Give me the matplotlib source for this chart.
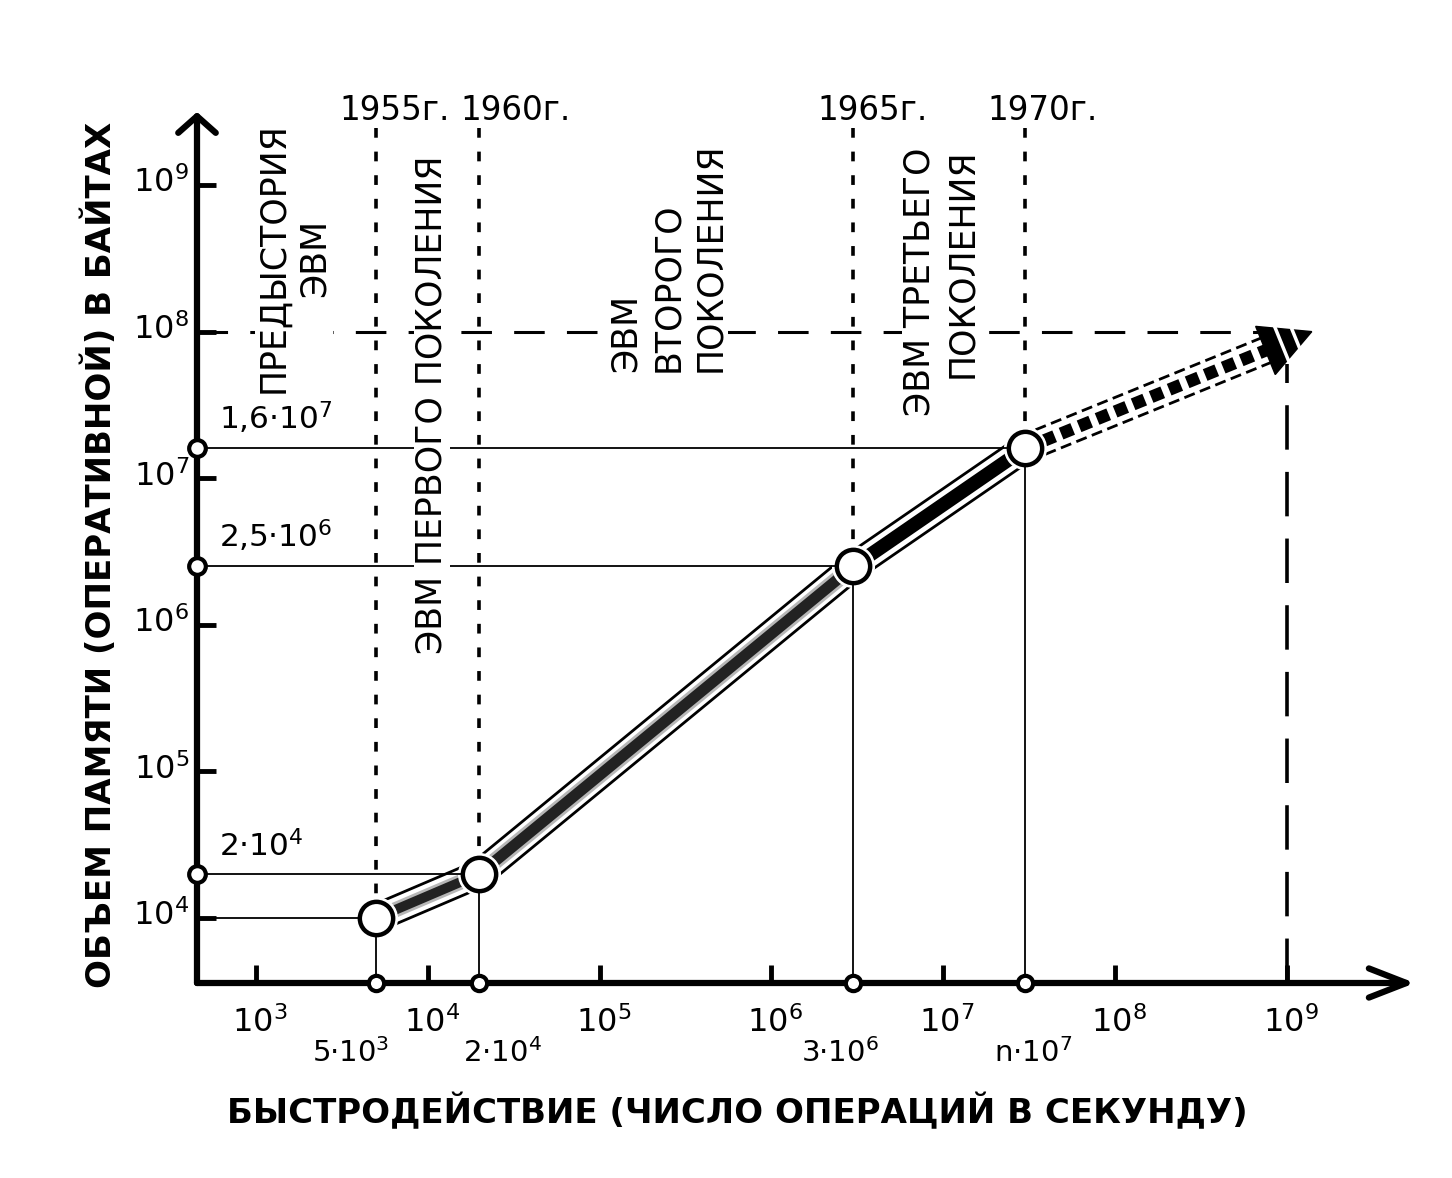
import numpy as np
import matplotlib
matplotlib.use('Agg')
import matplotlib.pyplot as plt
from matplotlib.patches import Polygon
from matplotlib.transforms import IdentityTransform

# ---- values ----
speed = [5e3, 2e4, 3e6, 3e7]            # быстродействие, оп/с
memory = [1e4, 2e4, 2.5e6, 1.6e7]       # объем памяти, байт
years = ['1955г.', '1960г.', '1965г.', '1970г.']
speed_labels = ['$5·10^{3}$', '$2·10^{4}$', '$3·10^{6}$', r'$\mathrm{n}·10^{7}$']
memory_labels = [None, '$2·10^{4}$', '$2{,}5·10^{6}$', '$1{,}6·10^{7}$']
forecast_speed = 1e9
forecast_memory = 1e8
forecast_tip = (1.4e9, 1.0e8)
x_decades = [1e3, 1e4, 1e5, 1e6, 1e7, 1e8, 1e9]
y_decades = [1e4, 1e5, 1e6, 1e7, 1e8, 1e9]
eras = ['ПРЕДЫСТОРИЯ\nЭВМ', 'ЭВМ ПЕРВОГО ПОКОЛЕНИЯ',
        'ЭВМ\nВТОРОГО\nПОКОЛЕНИЯ', 'ЭВМ ТРЕТЬЕГО\nПОКОЛЕНИЯ']
xlabel = 'БЫСТРОДЕЙСТВИЕ (ЧИСЛО ОПЕРАЦИЙ В СЕКУНДУ)'
ylabel = 'ОБЪЕМ ПАМЯТИ (ОПЕРАТИВНОЙ) В БАЙТАХ'

W, H = 1452, 1178

plt.rcParams['font.family'] = ['DejaVu Sans']
plt.rcParams['mathtext.fontset'] = 'dejavusans'
plt.rcParams['lines.scale_dashes'] = False
plt.rcParams['lines.solid_capstyle'] = 'butt'


def px(x, y):
    return x / W, 1 - y / H


fig = plt.figure(figsize=(W / 100, H / 100), dpi=100)
ax = fig.add_axes([197 / W, (H - 983) / H, 1218 / W, 871 / H])
ax.set_xscale('log')
ax.set_yscale('log')
xmin, xmax = 10 ** 2.657, 10 ** 9.747
ymin, ymax = 10 ** 3.557, 10 ** 9.498
ax.set_xlim(xmin, xmax)
ax.set_ylim(ymin, ymax)
for s in ax.spines.values():
    s.set_visible(False)
ax.patch.set_alpha(0)

ax.set_xticks(x_decades)
ax.set_yticks(y_decades)
ax.minorticks_off()
ax.set_xticklabels([])
ax.set_yticklabels([])
ax.tick_params(axis='x', direction='in', length=13, width=3.5, color='k')
ax.tick_params(axis='y', direction='in', length=14, width=3.5, color='k')

# axes with arrows
ax.annotate('', xy=(xmax, ymin), xytext=(xmin, ymin),
            arrowprops=dict(arrowstyle='->,head_length=0.9,head_width=0.35', lw=4.5,
                            color='k', mutation_scale=30, shrinkA=0, shrinkB=0),
            annotation_clip=False, zorder=8)
ax.annotate('', xy=(xmin, ymax), xytext=(xmin, ymin),
            arrowprops=dict(arrowstyle='->,head_length=0.4,head_width=0.45', lw=4.5,
                            color='k', mutation_scale=30, shrinkA=0, shrinkB=0),
            annotation_clip=False, zorder=8)

top_guide = 10 ** 9.39
year_dx = [19, 36, 19, 18]
# year lines (dotted) and guides
for xs, ys, yr, dx in zip(speed, memory, years, year_dx):
    ax.plot([xs, xs], [top_guide, ys], color='k', lw=2.6, ls=(0, (7, 10)), zorder=1)
    ax.plot([xs, xs], [ymin, ys], color='k', lw=1.3, zorder=6.5)
    ax.plot([xmin, xs], [ys, ys], color='k', lw=1.3, zorder=6.5)
    ax.annotate(yr, xy=(xs, ymax), xycoords='data', xytext=(dx, 2),
                textcoords='offset pixels', ha='center', va='center',
                fontsize=23.5, annotation_clip=False)

# forecast guide lines
ax.plot([xmin, forecast_speed], [forecast_memory, forecast_memory], color='k', lw=2.2,
        ls=(0, (22, 16)), zorder=1)
ax.plot([forecast_speed, forecast_speed], [ymin, forecast_memory * 0.6], color='k', lw=2.6,
        ls=(0, (32, 16)), zorder=1)


# trend band
def band(xs, ys, core='k', core_lw=9, glow=None, dashed=False):
    if dashed:
        ax.plot(xs, ys, color='k', lw=21, ls=(0, (8, 4)), zorder=4)
    else:
        ax.plot(xs, ys, color='k', lw=21, zorder=4)
    ax.plot(xs, ys, color='white', lw=17, zorder=4.1)
    if glow:
        ax.plot(xs, ys, color=glow, lw=core_lw + 4, alpha=0.6, zorder=4.2)
    if dashed:
        ax.plot(xs, ys, color=core, lw=core_lw, ls=(0, (9, 5)), zorder=4.3)
    else:
        ax.plot(xs, ys, color=core, lw=core_lw, zorder=4.3)


band(speed[0:2], memory[0:2], core='#222222', core_lw=7, glow='#888888')
band(speed[1:3], memory[1:3], core='#222222', core_lw=8, glow='#888888')
band(speed[2:4], memory[2:4], core='k', core_lw=10)

# forecast arrow head, built from the data points in display space
T = ax.transData
p0 = T.transform((speed[-1], memory[-1]))
tip = T.transform(forecast_tip)
u = (tip - p0) / np.hypot(*(tip - p0))
nv = np.array([-u[1], u[0]])
base = tip - 50 * u
band_end = T.inverted().transform(base + 4 * u)
band([speed[-1], band_end[0]], [memory[-1], band_end[1]], dashed=True)
head = Polygon([tip, base + 26 * nv, base - 26 * nv], closed=True, fc='k', ec='k',
               transform=IdentityTransform(), zorder=5, clip_on=False)
ax.add_patch(head)
for f in (0.35, 0.65):
    c = base + f * 50 * u
    w = 26 * (1 - f) + 2
    ax.plot(*T.inverted().transform([c + w * nv, c - w * nv]).T, color='white', lw=2.5, zorder=5.1)

# circles
ax.plot(speed, memory, 'o', ms=30, mfc='white', mec='white', zorder=6)
ax.plot(speed, memory, 'o', ms=24, mfc='white', mec='k', mew=3.2, zorder=7)
ax.plot(speed, [ymin] * len(speed), 'o', ms=11, mfc='white', mec='k', mew=3, zorder=9,
        clip_on=False)
ax.plot([xmin] * 3, memory[1:], 'o', ms=12, mfc='white', mec='k', mew=3, zorder=9,
        clip_on=False)

# tick labels
for v in x_decades:
    ax.annotate('$10^{%d}$' % round(np.log10(v)), xy=(v, ymin), xytext=(4, -40),
                textcoords='offset pixels', ha='center', va='center', fontsize=23,
                annotation_clip=False)
for v in y_decades:
    ax.annotate('$10^{%d}$' % round(np.log10(v)), xy=(xmin, v), xytext=(-8, 2),
                textcoords='offset pixels', ha='right', va='center', fontsize=23,
                annotation_clip=False)
for v, lab, dx in zip(speed, speed_labels, [-25, 23, -13, 8]):
    ax.annotate(lab, xy=(v, ymin), xytext=(dx, -70), textcoords='offset pixels',
                ha='center', va='center', fontsize=21, annotation_clip=False)
for v, lab in zip(memory, memory_labels):
    if lab:
        ax.annotate(lab, xy=(xmin, v), xytext=(22, 12), textcoords='offset pixels',
                    ha='left', va='bottom', fontsize=22.5, annotation_clip=False)

# era captions
box = dict(fc='white', ec='none', pad=1)
fig.text(*px(294, 258), eras[0], rotation=90, ha='center', va='center', fontsize=25,
         multialignment='center', linespacing=1.25, bbox=box, zorder=5)
fig.text(*px(432, 405), eras[1], rotation=90, ha='center', va='center', fontsize=25,
         bbox=box, zorder=5)
fig.text(*px(668, 372), eras[2], rotation=90, ha='center', va='bottom', fontsize=25,
         multialignment='left', linespacing=1.3, bbox=box, zorder=5)
fig.text(*px(941, 148), eras[3], rotation=90, ha='center', va='top', fontsize=25,
         multialignment='right', linespacing=1.3, bbox=box, zorder=5)

fig.text(*px(737, 1112), xlabel, ha='center', va='center', fontsize=24.5, weight='bold')
fig.text(*px(100, 555), ylabel, rotation=90, ha='center', va='center', fontsize=24.5,
         weight='bold')

fig.savefig('out.png', dpi=100, facecolor='white')
